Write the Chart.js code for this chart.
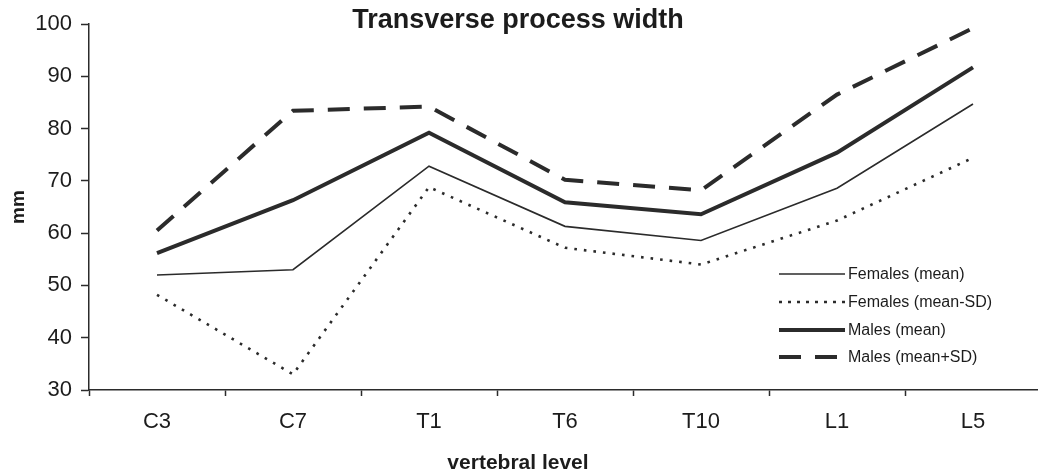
<!DOCTYPE html>
<html>
<head>
<meta charset="utf-8">
<title>Transverse process width</title>
<script src="https://cdn.jsdelivr.net/npm/chart.js@4/dist/chart.umd.min.js"></script>
<style>
  html, body { margin: 0; padding: 0; background: #fff; overflow: hidden; }
  #wrap { width: 1041px; height: 474px; }
</style>
</head>
<body>
<div id="wrap"><canvas id="chart" width="1041" height="474"></canvas></div>
<script>
// Vertebral levels along the x axis
const levels = ['C3', 'C7', 'T1', 'T6', 'T10', 'L1', 'L5'];

// Transverse process width, mm
const femalesMean        = [52.0, 53.0, 72.8, 61.3, 58.6, 68.6, 84.7];
const femalesMeanMinusSD = [48.2, 33.0, 68.8, 57.2, 54.0, 62.4, 74.4];
const malesMean          = [56.2, 66.3, 79.2, 65.9, 63.6, 75.4, 91.7];
const malesMeanPlusSD    = [60.5, 83.4, 84.2, 70.2, 68.2, 86.5, 99.2];

// y axis range and step
const yMin = 30, yMax = 100, yStep = 10;

const INK = '#2b2b2b';
const TEXT = '#1c1c1c';
const FONT = "'Liberation Sans', Arial, Helvetica, sans-serif";

// Chart heading (over the top of the plot) and the x axis caption,
// both centred on the same vertical line
const captionsPlugin = {
  id: 'captions',
  afterDraw(chart) {
    const { ctx, chartArea } = chart;
    const cx = 518;
    ctx.save();
    ctx.fillStyle = TEXT;
    ctx.textAlign = 'center';
    ctx.textBaseline = 'alphabetic';
    ctx.font = 'bold 27px ' + FONT;
    ctx.fillText('Transverse process width', cx, chartArea.top + 4);
    ctx.font = 'bold 21px ' + FONT;
    ctx.fillText('vertebral level', cx, chart.height - 5);
    ctx.restore();
  }
};

// Line-sample legend in the lower right corner of the plot
const lineLegendPlugin = {
  id: 'lineLegend',
  afterDraw(chart) {
    const { ctx, chartArea } = chart;
    const x0 = chartArea.right - 262;
    const x1 = x0 + 66;
    const rowY = [274, 302, 330, 357];
    ctx.save();
    ctx.font = '16px ' + FONT;
    ctx.textBaseline = 'middle';
    ctx.textAlign = 'left';
    chart.data.datasets.forEach((ds, i) => {
      const y = rowY[i];
      ctx.beginPath();
      ctx.strokeStyle = ds.borderColor;
      ctx.lineWidth = ds.borderWidth;
      ctx.setLineDash(ds.legendDash || ds.borderDash || []);
      ctx.lineCap = 'butt';
      ctx.moveTo(x0, y);
      ctx.lineTo(x1, y);
      ctx.stroke();
      ctx.setLineDash([]);
      ctx.fillStyle = TEXT;
      ctx.fillText(ds.label, x1 + 3, y + 1);
    });
    ctx.restore();
  }
};

new Chart(document.getElementById('chart'), {
  type: 'line',
  data: {
    labels: levels,
    datasets: [
      {
        label: 'Females (mean)',
        data: femalesMean,
        borderColor: INK,
        borderWidth: 1.6,
        pointRadius: 0,
        tension: 0
      },
      {
        label: 'Females (mean-SD)',
        data: femalesMeanMinusSD,
        borderColor: INK,
        borderWidth: 2.6,
        borderDash: [2.6, 7],
        legendDash: [3, 6],
        pointRadius: 0,
        tension: 0
      },
      {
        label: 'Males (mean)',
        data: malesMean,
        borderColor: INK,
        borderWidth: 4,
        pointRadius: 0,
        tension: 0
      },
      {
        label: 'Males (mean+SD)',
        data: malesMeanPlusSD,
        borderColor: INK,
        borderWidth: 4,
        borderDash: [22, 14],
        legendDash: [22, 14],
        pointRadius: 0,
        tension: 0
      }
    ]
  },
  options: {
    responsive: false,
    animation: false,
    layout: { padding: { top: 24, right: 0, left: 0, bottom: 0 } },
    plugins: {
      legend: { display: false },
      tooltip: { enabled: false },
      title: { display: false }
    },
    scales: {
      x: {
        offset: true,
        afterFit(scale) { scale.height = 84; },
        grid: {
          offset: true,
          drawOnChartArea: false,
          drawTicks: true,
          tickLength: 6,
          tickColor: INK,
          tickWidth: 1.5
        },
        border: { display: true, color: INK, width: 1.5 },
        ticks: {
          color: TEXT,
          font: { family: FONT, size: 22 },
          padding: 13,
          maxRotation: 0
        },
        title: { display: false }
      },
      y: {
        min: yMin,
        max: yMax,
        afterFit(scale) { scale.width = 89; },
        grid: {
          drawOnChartArea: false,
          drawTicks: true,
          tickLength: 8,
          tickColor: INK,
          tickWidth: 1.5
        },
        border: { display: true, color: INK, width: 1.5 },
        ticks: {
          stepSize: yStep,
          color: TEXT,
          font: { family: FONT, size: 22 },
          padding: 9
        },
        title: {
          display: true,
          text: 'mm',
          color: TEXT,
          font: { family: FONT, size: 19, weight: 'bold' },
          padding: { top: 7, bottom: 0 }
        }
      }
    }
  },
  plugins: [captionsPlugin, lineLegendPlugin]
});
</script>
</body>
</html>
